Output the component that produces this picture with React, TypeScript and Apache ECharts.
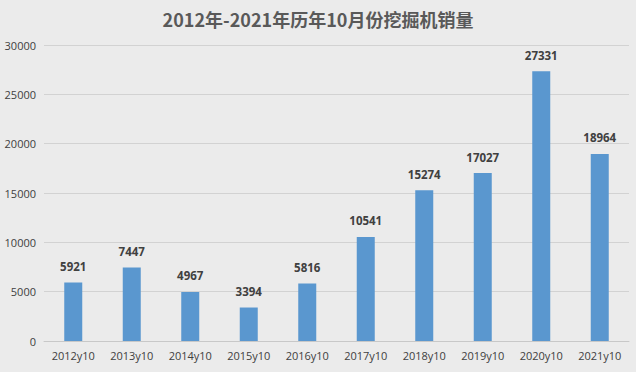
import React, { useEffect, useRef } from "react";
import * as echarts from "echarts";

const categories = ["2012y10", "2013y10", "2014y10", "2015y10", "2016y10", "2017y10", "2018y10", "2019y10", "2020y10", "2021y10"];
const sales = [5921, 7447, 4967, 3394, 5816, 10541, 15274, 17027, 27331, 18964];
const titleText = "2012年-2021年历年10月份挖掘机销量";

export default function App() {
  const ref = useRef<HTMLDivElement>(null);
  useEffect(() => {
    const chart = echarts.init(ref.current!, null, { renderer: "svg" });
    chart.setOption({
      animation: false,
      backgroundColor: "#ebebeb",
      title: {
        text: titleText,
        left: "center",
        top: 5,
        textStyle: { fontFamily: "Noto Sans CJK SC", fontSize: 18, fontWeight: "bold", color: "#595959" },
      },
      grid: { left: 44, right: 7, top: 45, bottom: 31 },
      xAxis: {
        type: "category",
        data: categories,
        axisLine: { lineStyle: { color: "#c8c8c8" } },
        axisTick: { show: false },
        axisLabel: { color: "#404040", fontSize: 11, fontFamily: "Open Sans", margin: 9 },
      },
      yAxis: {
        type: "value",
        min: 0,
        max: 30000,
        interval: 5000,
        axisLine: { show: false },
        axisTick: { show: false },
        splitLine: { lineStyle: { color: "#d2d2d2" } },
        axisLabel: {
          color: "#404040",
          fontSize: 11,
          fontFamily: "Open Sans",
          margin: 8,
          formatter: (v: number) => String(v),
        },
      },
      series: [
        {
          type: "bar",
          data: sales,
          barWidth: 18,
          itemStyle: { color: "#5a97cf" },
          label: {
            show: true,
            position: "top",
            distance: 10,
            color: "#404040",
            fontWeight: "bold",
            fontSize: 11.5,
            fontFamily: "Open Sans",
          },
        },
      ],
    });
    return () => chart.dispose();
  }, []);
  return <div ref={ref} style={{ width: 636, height: 372, position: "fixed", left: 0, top: 0 }} />;
}
